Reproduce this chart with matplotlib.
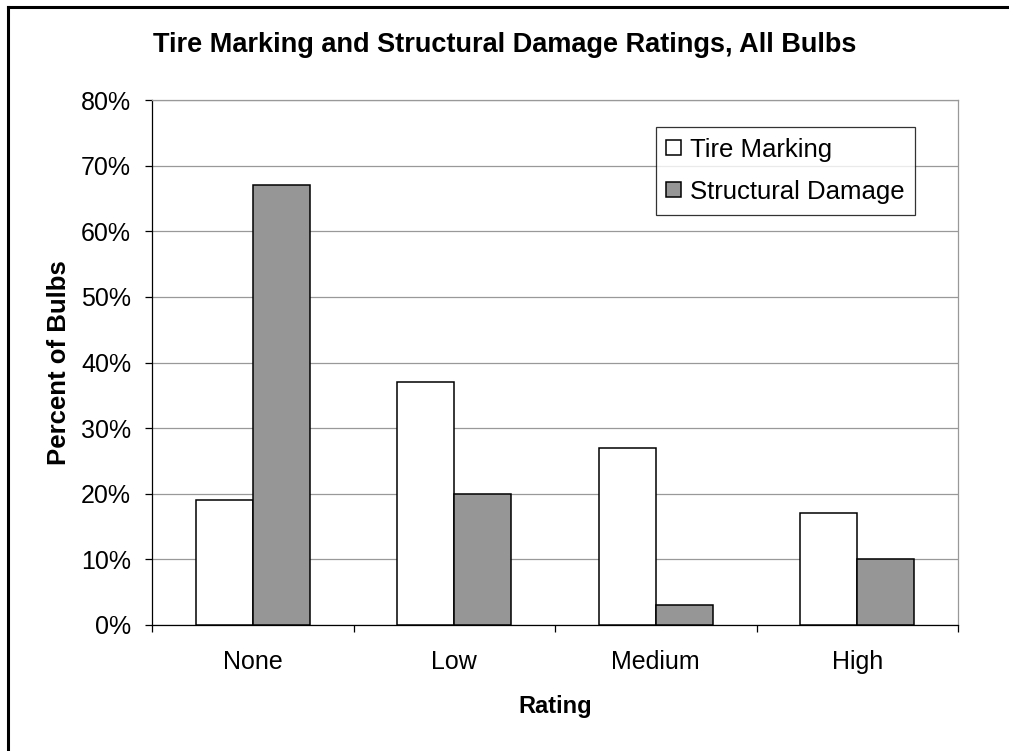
import numpy as np
import matplotlib.pyplot as plt
from matplotlib.lines import Line2D

plt.rcParams['font.family'] = ['Liberation Sans', 'DejaVu Sans']

# Data
categories = ['None', 'Low', 'Medium', 'High']
tire_marking = [19, 37, 27, 17]
structural_damage = [67, 20, 3, 10]
series_names = ['Tire Marking', 'Structural Damage']

fig = plt.figure(figsize=(10.09, 7.51), dpi=100)
ax = fig.add_axes([152 / 1009, 126 / 751, 806 / 1009, 525 / 751])

x = np.arange(len(categories))
w = 0.283
ax.bar(x - w / 2, tire_marking, w, color='white', edgecolor='black', linewidth=1.1,
       label=series_names[0], zorder=3)
ax.bar(x + w / 2, structural_damage, w, color='#969696', edgecolor='black', linewidth=1.1,
       label=series_names[1], zorder=3)

ax.set_xlim(-0.5, len(categories) - 0.5)
ax.set_ylim(0, 80)
ax.set_yticks(np.arange(0, 81, 10))
ax.set_yticklabels([f'{v}%' for v in range(0, 81, 10)])
ax.yaxis.grid(True, color='#999999', linewidth=0.9, zorder=0)

ax.set_xticks(x)
ax.set_xticklabels(categories)
ax.set_xticks(np.arange(-0.5, len(categories)), minor=True)
ax.tick_params(axis='x', which='major', length=0, pad=18, labelsize=18)
ax.tick_params(axis='x', which='minor', length=5, width=0.9, direction='out')
ax.tick_params(axis='y', length=5, width=0.9, direction='out', pad=10, labelsize=18)

ax.spines['left'].set_color('black')
ax.spines['bottom'].set_color('black')
ax.spines['top'].set_color('#999999')
ax.spines['right'].set_color('#999999')
for s in ax.spines.values():
    s.set_linewidth(0.9)

ax.set_xlabel('Rating', fontsize=17, fontweight='bold', labelpad=15)
ax.set_ylabel('Percent of Bulbs', fontsize=18.5, fontweight='bold', labelpad=7)
fig.text(505 / 1009, 1 - 45 / 751, 'Tire Marking and Structural Damage Ratings, All Bulbs',
         ha='center', va='center', fontsize=19.5, fontweight='bold')

leg = ax.legend(loc='upper right', bbox_to_anchor=(915 / 1009, 1 - 127 / 751),
                bbox_transform=fig.transFigure, fontsize=18.5, frameon=True, fancybox=False,
                handlelength=0.55, handleheight=0.55, handletextpad=0.35, borderpad=0.42,
                labelspacing=0.7, borderaxespad=0)
leg.get_frame().set_edgecolor('black')
leg.get_frame().set_linewidth(0.9)

# Outer chart frame (only left and top edges visible)
fig.add_artist(Line2D([8 / 1009, 8 / 1009], [0, 1 - 7 / 751], color='black', linewidth=2.2,
                      transform=fig.transFigure))
fig.add_artist(Line2D([8 / 1009, 1], [1 - 7 / 751, 1 - 7 / 751], color='black', linewidth=2.2,
                      transform=fig.transFigure))

fig.savefig('out.png', dpi=100)
